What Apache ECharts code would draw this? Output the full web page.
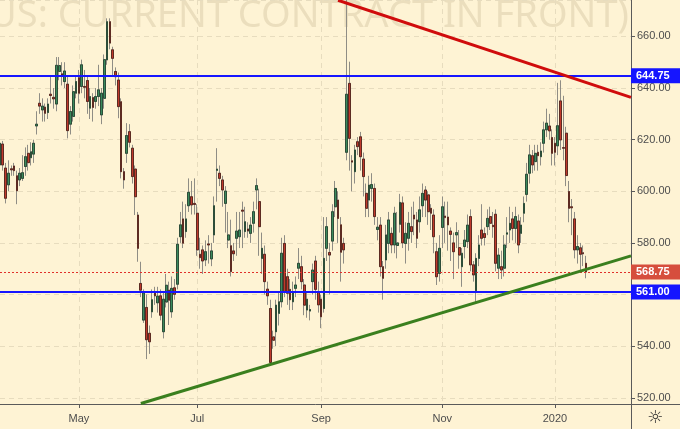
<!DOCTYPE html>
<html><head><meta charset="utf-8">
<script src="https://cdn.jsdelivr.net/npm/echarts/dist/echarts.min.js"></script>
<style>html,body{margin:0;padding:0;background:#fef3d4;}#c{width:680px;height:429px;}</style>
</head><body><div id="c"></div>
<script>
// [open, close, low, high]
const marApr = [
[610.2,618.6,609,620],[618.3,610.2,608,619.5],[609,597.3,595.3,611],[602.5,607,600,612],
[608.7,608.3,606,610],[609.8,608,606,611],[606,600.2,595,608],[604.4,607,602,609],
[605,607.2,604,614],[609.6,613.4,606,617],[614.7,611.1,608,618],[613,615.3,610,619],
[614.4,618.6,611,620],[625.3,626,622,631],[634.1,633,630,638],[631.5,633,627,636],
[632.6,630.2,627,634],[630.5,633.8,628,636],[637.6,637.1,634,645],[636.4,635.8,632,640],
[633.8,648.8,631,652],[646.4,648.7,643,652],[645.5,645,641,650],[642.5,646.6,640,650],
[641.5,623.5,620.5,645],[626,630.9,622,633],[629,638.6,627,641],[638,642.5,636,645]
];
const mayJun = [
[644,638,634,647],[640.6,649,638,651],[640.6,640.3,636,647],[642.9,634.8,630,645],
[632.2,636.7,628,640],[636.3,632.5,627,638],[634.8,636.7,632,640],[636.7,639.3,633,649],
[629.6,638,626,640],[636,651,632,653],[650.9,665.7,649,667],[665.7,657.4,655,667],
[654.8,651.5,645,656],[646.4,644.4,641,648],[643.1,632.8,628.3,646],[634.7,607.6,605,636],
[607.6,604.4,601,609],[614.7,621.6,611,626.4],[623.1,619,617,626],[616.7,605.7,603,618],
[608.6,597.9,590.8,610],[590.8,577.9,572.7,592],[564.3,561.7,559,572.7],[550.1,560.7,549,562],
[555,542.5,535,560],[545,541.7,537,548],[553.3,558,551,562],[560.8,559.5,556,563],
[556.8,559.4,553,563],[559.5,552,550,562],[545.6,558.2,543,561],[557.1,563.6,555,568],
[561.7,557.8,548.2,565],[553.3,562.4,551,567],[562.6,560.1,558,566],[564,579.5,562,582],
[582.4,587,580,592],[589.3,579.9,578,596],[584.4,589.3,582,595],[594.4,599.6,592,605],
[597.9,594.7,591,604],[595.3,594.9,591,605]
];
const julAug = [
[591.5,577.3,575,595],[575.6,574.3,570,582],[577.3,573,568,579],[573.4,576.6,571,581],
[579.6,579.2,572,583],[573.8,576.9,571,580],[583.1,594.4,580,598],[608.1,608.6,596,616.7],
[607,605,602,610],[604.4,600.5,594,606],[595.3,600.1,584,602],[581.1,583.1,578,592],
[578.9,568.9,567,589],[576.9,575.8,573,580],[581.8,584.6,575,592],[582.4,585,578,592],
[592.7,592.3,578,596],[584.4,588.2,582,594],[585.4,584.6,582,588],[583.7,586.9,580,590],
[587.6,592.1,584,596],[600.5,602.2,593,605],[596,586.3,575,601],[574,577.9,568,584],
[575.6,565,560,579],[562.1,559.5,556,565],[554.6,533.7,532.5,558],[543.6,542.3,539,546],
[545.6,555.9,540,558],[552.7,557.2,548,561],[557.2,576,555,582],[579.8,561.1,559,583],
[566.9,560.5,556,570],[562,558,554,566],[557.2,561.1,554,565],[562.4,563.7,559,567],
[570.2,572.1,566,578],[570.8,565,562,575],[563.7,555.9,552,566],[554,558.2,551,561],
[553.6,554.2,550,556],[565,569.5,560,572],[573,562,558,575],[561,556,553,565]
];
const sepOct = [
[558.2,551.4,547,560],[554.6,574,553,590],[577.9,586.3,573,590],[576.3,575.3,560,580],
[580.7,592.1,577,595],[594,601.1,590,604],[596.6,589.5,580,600],[587,576.4,565,590],
[579.8,577.3,572,582],[615.1,637.6,612,676],[641.8,620.5,608,650.2],[611.8,611.3,600,614],
[607.6,616,603,618],[619.2,617.3,614,621],[621.1,613.4,608,623],[612.5,605.7,598,615],
[599.2,593.4,590,603],[596.6,602.4,590,606],[601.1,602.6,596,607],[601.1,590.2,587,603],
[585.2,586.1,581,590],[586.9,570.8,567,590],[570.8,566.3,558,573],[573.4,583.1,570,587],
[579.8,588.9,576,592],[583.7,579.2,576,586],[579.2,591.5,576,594],[579,580,574,592],
[587.2,595.7,584,599],[595.5,580,578,598],[579.8,583.7,572,588],[581.8,587.6,577,592],
[586.3,584.4,580,594],[590.8,589.3,583,596],[588.9,581.8,578,592],[588.2,592.8,584,598],
[594.4,599.2,590,603],[600.5,596.6,590,602],[598.6,592.1,587,600],[593.4,591.5,585,595],
[590.8,582.4,576,593],[576.6,566.9,563.7,580],[568.2,577.9,565,583]
];
const novDec = [
[586,594,578,598],[590.4,589.8,580,596],[590,587,577,596],[584.6,583.3,573,586],
[580,576.6,566,584],[583.1,584,578,588],[578.2,575.3,570,585],[570.8,576,563,578],
[578.6,581.1,574,585],[580.5,586.9,578,591],[590.2,571.5,569,593],[571.5,567.6,565,573],
[561.5,574,557,576],[574,579.2,571,583],[585,581.8,579,595],[583.6,582.1,579,586],
[586.3,589.5,583,593],[590.2,587.6,585,594],[586.8,586.3,582,592],[591.1,572.1,569,593],
[570.2,575.3,566,578],[570.8,569.5,566,577],[570.2,579.2,567,583],[583.4,583.9,578,590],
[585,587.6,580,594],[589.3,585.6,581,592],[585.6,590.2,580,594],[588.5,579.2,576,591],
[583.7,586.9,580,590],[591.5,595.3,588,598],[598.8,606.6,596,611],[607,614.1,603,618],
[613.8,610.2,607,616],[611.5,614.7,608,618],[615.1,613.8,608,618],[613.4,615.6,610,619],
[618.6,623.8,615,627],[623.8,626.4,621,632],[625.3,623.4,620,630],[620.8,614.7,610,624]
];
const jan20 = [
[618.6,615.1,610,621],[617.6,625.4,614,642],[635,619.9,616,643],[616.9,616.7,612,637],
[622.5,606.1,602,625],[599.9,593.4,588,604],[594,593.6,583,597],[589.3,577.3,574,592],
[577.3,578.6,572,583],[578.1,575.6,569,580],[576.2,575.8,571,579],[572.1,568.75,566.3,575]
];
const slotCount = 225;
const monthTicks = {28:'May', 70:'Jul', 114:'Sep', 157:'Nov', 197:'2020'};
const levels = [644.75, 561.00];
const lastPrice = 568.75;
const resistanceLine = [[120, 674.0], [224, 636.4]];
const supportLine = [[50, 517.8], [224, 575.0]];
const watermark = '(CONTINUOUS: CURRENT CONTRACT IN FRONT)';

const ohlc = [].concat(marApr, mayJun, julAug, sepOct, novDec, jan20);
const bodies = ohlc.map(d => [d[0], d[1], Math.min(d[0], d[1]), Math.max(d[0], d[1])]);
const categories = Array.from({length: slotCount}, (_, i) => String(i));
const isTick = (i) => Object.prototype.hasOwnProperty.call(monthTicks, i);

const BLUE = '#1515ff', REDLBL = '#d64e3d';
const FONT = 'Liberation Sans';
const gridCol = '#e7dcbe';
const axisCol = '#5a5a5a';

function levelLabel(v, bg) {
  return {show: true, position: 'end', distance: 0, formatter: () => v.toFixed(2),
    color: '#fff', backgroundColor: bg, padding: [2, 4, 1, 5], width: 40, lineHeight: 12,
    fontSize: 11, fontWeight: 'bold', fontFamily: FONT};
}

const chart = echarts.init(document.getElementById('c'), null, {renderer: 'canvas'});
chart.setOption({
  animation: false,
  backgroundColor: '#fef3d4',
  grid: {left: 0, right: 49, top: 0, bottom: 25, containLabel: false},
  xAxis: {
    type: 'category', data: categories, boundaryGap: false,
    axisLine: {show: true, lineStyle: {color: axisCol}},
    axisTick: {show: true, interval: (i) => isTick(i), length: 4, lineStyle: {color: axisCol}},
    axisLabel: {interval: (i) => isTick(i), formatter: (v, i) => monthTicks[i] || '',
      color: '#4d4d4d', fontSize: 11, fontFamily: FONT, margin: 9},
    splitLine: {show: true, interval: (i) => isTick(i), lineStyle: {color: gridCol, type: [5, 4]}}
  },
  yAxis: {
    type: 'value', position: 'right', min: 517.6, max: 674.1, splitNumber: 8,
    axisLine: {show: true, lineStyle: {color: axisCol}},
    axisTick: {show: true, length: 4, lineStyle: {color: axisCol}},
    axisLabel: {showMinLabel: false, showMaxLabel: false, formatter: v => v.toFixed(2),
      color: '#4d4d4d', fontSize: 11, fontFamily: FONT, margin: 6},
    splitLine: {show: true, lineStyle: {color: gridCol, type: [5, 4]}}
  },
  graphic: [
    {type: 'text', z: -10, silent: true, x: 629, y: -3,
      style: {text: watermark, font: '38px "Noto Sans"', fill: 'rgba(125,105,60,0.15)',
        align: 'right', verticalAlign: 'top'}},
    {type: 'line', silent: true, shape: {x1: 631, y1: 404.5, x2: 680, y2: 404.5},
      style: {stroke: axisCol, lineWidth: 1}},
    {type: 'line', silent: true, shape: {x1: 631.5, y1: 404, x2: 631.5, y2: 429},
      style: {stroke: axisCol, lineWidth: 1}},
    {type: 'text', silent: true, x: 655, y: 418,
      style: {text: '\u263C', font: '18px "DejaVu Sans"', fill: '#333', align: 'center', verticalAlign: 'middle'}}
  ],
  series: [
    {type: 'candlestick', name: 'wicks', data: ohlc, barWidth: 2.2, z: 2,
      itemStyle: {color: '#3b8a5c', color0: '#c0392b', borderColor: '#8f8d85', borderColor0: '#8f8d85', borderWidth: 1}},
    {type: 'candlestick', name: 'bodies', data: bodies, barWidth: 2.2, z: 3,
      itemStyle: {color: '#3b8a5c', color0: '#c0392b', borderColor: '#1f3d2b', borderColor0: '#4a1d14', borderWidth: 0.8},
      markLine: {
        silent: true, symbol: ['none', 'none'], animation: false,
        data: [
          {yAxis: levels[0], lineStyle: {color: BLUE, width: 2, type: 'solid'}, label: levelLabel(levels[0], BLUE)},
          {yAxis: levels[1], lineStyle: {color: BLUE, width: 2, type: 'solid'}, label: levelLabel(levels[1], BLUE)},
          {yAxis: lastPrice, lineStyle: {color: '#e0302a', width: 1, type: [2, 2]}, label: levelLabel(lastPrice, REDLBL)},
          [{coord: resistanceLine[0], lineStyle: {color: '#d00c0c', width: 3, type: 'solid'}, label: {show: false}},
           {coord: resistanceLine[1]}],
          [{coord: supportLine[0], lineStyle: {color: '#3a7f1e', width: 3, type: 'solid'}, label: {show: false}},
           {coord: supportLine[1]}]
        ]
      }}
  ]
});
</script>
</body></html>
